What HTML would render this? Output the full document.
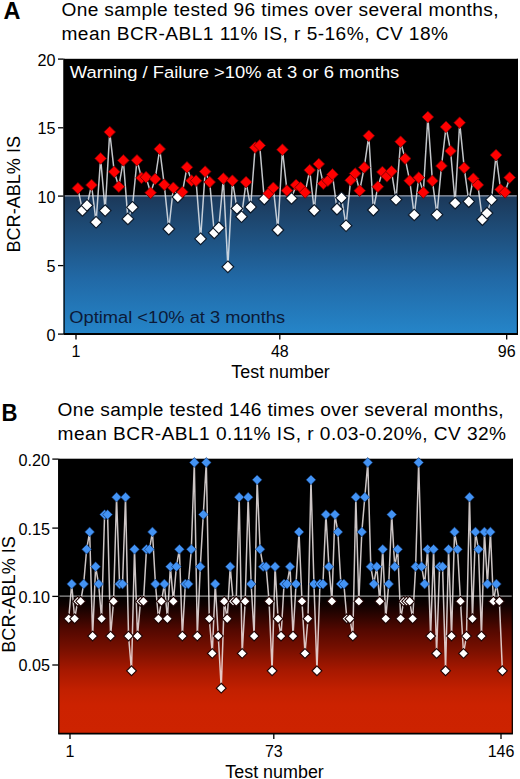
<!DOCTYPE html>
<html><head><meta charset="utf-8"><title>BCR-ABL1 charts</title>
<style>html,body{margin:0;padding:0;background:#fff;width:520px;height:779px;overflow:hidden}svg{display:block}.r{fill:#ff0000;stroke:#6a0000;stroke-width:0.8}.w{fill:#fff;stroke:#0a1626;stroke-width:1.1}.b{fill:#4393f4;stroke:#0c2a5a;stroke-width:0.6}.v{fill:#fff;stroke:#200404;stroke-width:1.1}</style>
</head><body>
<svg width="520" height="779" viewBox="0 0 520 779">
<defs>
<linearGradient id="gA" x1="0" y1="196" x2="0" y2="334" gradientUnits="userSpaceOnUse">
<stop offset="0" stop-color="#1b3859"/>
<stop offset="0.25" stop-color="#1e4d79"/>
<stop offset="0.6" stop-color="#2169a6"/>
<stop offset="1" stop-color="#2585c9"/>
</linearGradient>
<linearGradient id="gB" x1="0" y1="458" x2="0" y2="734" gradientUnits="userSpaceOnUse">
<stop offset="0" stop-color="#000"/>
<stop offset="0.5" stop-color="#000"/>
<stop offset="0.533" stop-color="#100100"/>
<stop offset="0.623" stop-color="#530800"/>
<stop offset="0.696" stop-color="#7a1000"/>
<stop offset="0.768" stop-color="#a61800"/>
<stop offset="0.84" stop-color="#c22000"/>
<stop offset="0.895" stop-color="#cc2200"/>
<stop offset="1" stop-color="#cd2300"/>
</linearGradient>
</defs>
<rect width="520" height="779" fill="#fff"/>
<text x="3.6" y="19.3" font-family="Liberation Sans, sans-serif" font-size="23.5" font-weight="bold" fill="#000">A</text>
<text transform="translate(61.5 16.4) scale(1.05 1)" x="0" y="0" font-family="Liberation Sans, sans-serif" font-size="18.2" fill="#000" textLength="416.19" lengthAdjust="spacing">One sample tested 96 times over several months,</text>
<text transform="translate(61.5 39.6) scale(1.05 1)" x="0" y="0" font-family="Liberation Sans, sans-serif" font-size="18.2" fill="#000" textLength="368.10" lengthAdjust="spacing">mean BCR-ABL1 11% IS, r 5-16%, CV 18%</text>
<rect x="63.5" y="58.8" width="454.5" height="137.10000000000002" fill="#000"/>
<rect x="63.5" y="195.9" width="454.5" height="138.29999999999998" fill="url(#gA)"/>
<line x1="63.5" y1="195.9" x2="518.0" y2="195.9" stroke="#939bab" stroke-width="1.2"/>
<path d="M64.1 58.8V334.2M517.4 58.8V334.2" stroke="#000" stroke-width="1.2" fill="none"/>
<line x1="63.5" y1="334.0" x2="518.0" y2="334.0" stroke="#000" stroke-width="1.8"/>
<text x="69.8" y="78.3" font-family="Liberation Sans, sans-serif" font-size="17.2" fill="#fff" textLength="329.5" lengthAdjust="spacingAndGlyphs">Warning / Failure &gt;10% at 3 or 6 months</text>
<text x="69.3" y="323.4" font-family="Liberation Sans, sans-serif" font-size="17.2" fill="#0c1a38" textLength="215.8" lengthAdjust="spacingAndGlyphs">Optimal &lt;10% at 3 months</text>
<polyline points="77.90,188.30 82.45,210.40 86.99,205.30 91.54,185.00 96.08,222.20 100.62,158.40 105.17,210.60 109.72,132.00 114.26,171.80 118.81,186.70 123.35,160.40 127.90,218.90 132.44,207.30 136.99,160.30 141.53,177.90 146.07,177.20 150.62,192.80 155.17,179.00 159.71,149.00 164.25,184.70 168.80,229.00 173.34,187.80 177.89,197.00 182.44,192.00 186.98,167.30 191.53,180.70 196.07,180.70 200.62,238.80 205.16,171.60 209.71,182.10 214.25,232.80 218.80,227.80 223.34,178.60 227.88,266.80 232.43,180.70 236.97,208.40 241.52,216.70 246.06,182.10 250.61,207.00 255.16,147.50 259.70,145.40 264.25,199.00 268.79,193.40 273.34,187.80 277.88,230.00 282.43,149.70 286.97,190.60 291.51,198.40 296.06,185.00 300.61,187.50 305.15,192.40 309.69,170.10 314.24,210.50 318.78,164.00 323.33,183.60 327.88,180.70 332.42,174.40 336.97,209.00 341.51,197.80 346.05,225.70 350.60,180.20 355.14,173.50 359.69,190.70 364.24,167.40 368.78,135.80 373.33,210.00 377.87,186.70 382.41,172.00 386.96,176.30 391.50,171.30 396.05,199.60 400.60,141.70 405.14,158.60 409.68,180.70 414.23,214.90 418.77,177.60 423.32,192.40 427.87,117.00 432.41,180.90 436.96,214.70 441.50,165.90 446.04,126.90 450.59,151.00 455.13,203.10 459.68,122.70 464.23,167.80 468.77,201.50 473.32,178.70 477.86,184.90 482.40,219.50 486.95,213.10 491.50,199.70 496.04,155.10 500.59,189.50 505.13,192.30 509.67,177.60" fill="none" stroke="#e4e8ec" stroke-opacity="0.85" stroke-width="1.5" stroke-linejoin="round"/>
<path class="r" d="M77.90 182.45L83.75 188.30L77.90 194.15L72.05 188.30Z"/>
<path class="w" d="M82.45 204.55L88.30 210.40L82.45 216.25L76.60 210.40Z"/>
<path class="w" d="M86.99 199.45L92.84 205.30L86.99 211.15L81.14 205.30Z"/>
<path class="r" d="M91.54 179.15L97.39 185.00L91.54 190.85L85.69 185.00Z"/>
<path class="w" d="M96.08 216.35L101.93 222.20L96.08 228.05L90.23 222.20Z"/>
<path class="r" d="M100.62 152.55L106.47 158.40L100.62 164.25L94.78 158.40Z"/>
<path class="w" d="M105.17 204.75L111.02 210.60L105.17 216.45L99.32 210.60Z"/>
<path class="r" d="M109.72 126.15L115.56 132.00L109.72 137.85L103.87 132.00Z"/>
<path class="r" d="M114.26 165.95L120.11 171.80L114.26 177.65L108.41 171.80Z"/>
<path class="r" d="M118.81 180.85L124.66 186.70L118.81 192.55L112.96 186.70Z"/>
<path class="r" d="M123.35 154.55L129.20 160.40L123.35 166.25L117.50 160.40Z"/>
<path class="w" d="M127.90 213.05L133.75 218.90L127.90 224.75L122.05 218.90Z"/>
<path class="w" d="M132.44 201.45L138.29 207.30L132.44 213.15L126.59 207.30Z"/>
<path class="r" d="M136.99 154.45L142.84 160.30L136.99 166.15L131.14 160.30Z"/>
<path class="r" d="M141.53 172.05L147.38 177.90L141.53 183.75L135.68 177.90Z"/>
<path class="r" d="M146.07 171.35L151.92 177.20L146.07 183.05L140.22 177.20Z"/>
<path class="r" d="M150.62 186.95L156.47 192.80L150.62 198.65L144.77 192.80Z"/>
<path class="r" d="M155.17 173.15L161.02 179.00L155.17 184.85L149.32 179.00Z"/>
<path class="r" d="M159.71 143.15L165.56 149.00L159.71 154.85L153.86 149.00Z"/>
<path class="r" d="M164.25 178.85L170.10 184.70L164.25 190.55L158.41 184.70Z"/>
<path class="w" d="M168.80 223.15L174.65 229.00L168.80 234.85L162.95 229.00Z"/>
<path class="r" d="M173.34 181.95L179.19 187.80L173.34 193.65L167.50 187.80Z"/>
<path class="w" d="M177.89 191.15L183.74 197.00L177.89 202.85L172.04 197.00Z"/>
<path class="r" d="M182.44 186.15L188.28 192.00L182.44 197.85L176.59 192.00Z"/>
<path class="r" d="M186.98 161.45L192.83 167.30L186.98 173.15L181.13 167.30Z"/>
<path class="r" d="M191.53 174.85L197.38 180.70L191.53 186.55L185.68 180.70Z"/>
<path class="r" d="M196.07 174.85L201.92 180.70L196.07 186.55L190.22 180.70Z"/>
<path class="w" d="M200.62 232.95L206.47 238.80L200.62 244.65L194.77 238.80Z"/>
<path class="r" d="M205.16 165.75L211.01 171.60L205.16 177.45L199.31 171.60Z"/>
<path class="r" d="M209.71 176.25L215.56 182.10L209.71 187.95L203.86 182.10Z"/>
<path class="w" d="M214.25 226.95L220.10 232.80L214.25 238.65L208.40 232.80Z"/>
<path class="w" d="M218.80 221.95L224.65 227.80L218.80 233.65L212.95 227.80Z"/>
<path class="r" d="M223.34 172.75L229.19 178.60L223.34 184.45L217.49 178.60Z"/>
<path class="w" d="M227.88 260.95L233.73 266.80L227.88 272.65L222.03 266.80Z"/>
<path class="r" d="M232.43 174.85L238.28 180.70L232.43 186.55L226.58 180.70Z"/>
<path class="w" d="M236.97 202.55L242.82 208.40L236.97 214.25L231.12 208.40Z"/>
<path class="w" d="M241.52 210.85L247.37 216.70L241.52 222.55L235.67 216.70Z"/>
<path class="r" d="M246.06 176.25L251.91 182.10L246.06 187.95L240.22 182.10Z"/>
<path class="w" d="M250.61 201.15L256.46 207.00L250.61 212.85L244.76 207.00Z"/>
<path class="r" d="M255.16 141.65L261.00 147.50L255.16 153.35L249.31 147.50Z"/>
<path class="r" d="M259.70 139.55L265.55 145.40L259.70 151.25L253.85 145.40Z"/>
<path class="w" d="M264.25 193.15L270.10 199.00L264.25 204.85L258.39 199.00Z"/>
<path class="r" d="M268.79 187.55L274.64 193.40L268.79 199.25L262.94 193.40Z"/>
<path class="r" d="M273.34 181.95L279.19 187.80L273.34 193.65L267.49 187.80Z"/>
<path class="w" d="M277.88 224.15L283.73 230.00L277.88 235.85L272.03 230.00Z"/>
<path class="r" d="M282.43 143.85L288.28 149.70L282.43 155.55L276.57 149.70Z"/>
<path class="r" d="M286.97 184.75L292.82 190.60L286.97 196.45L281.12 190.60Z"/>
<path class="w" d="M291.51 192.55L297.37 198.40L291.51 204.25L285.66 198.40Z"/>
<path class="r" d="M296.06 179.15L301.91 185.00L296.06 190.85L290.21 185.00Z"/>
<path class="r" d="M300.61 181.65L306.46 187.50L300.61 193.35L294.75 187.50Z"/>
<path class="r" d="M305.15 186.55L311.00 192.40L305.15 198.25L299.30 192.40Z"/>
<path class="r" d="M309.69 164.25L315.55 170.10L309.69 175.95L303.84 170.10Z"/>
<path class="w" d="M314.24 204.65L320.09 210.50L314.24 216.35L308.39 210.50Z"/>
<path class="r" d="M318.78 158.15L324.63 164.00L318.78 169.85L312.93 164.00Z"/>
<path class="r" d="M323.33 177.75L329.18 183.60L323.33 189.45L317.48 183.60Z"/>
<path class="r" d="M327.88 174.85L333.73 180.70L327.88 186.55L322.02 180.70Z"/>
<path class="r" d="M332.42 168.55L338.27 174.40L332.42 180.25L326.57 174.40Z"/>
<path class="w" d="M336.97 203.15L342.82 209.00L336.97 214.85L331.12 209.00Z"/>
<path class="w" d="M341.51 191.95L347.36 197.80L341.51 203.65L335.66 197.80Z"/>
<path class="w" d="M346.05 219.85L351.90 225.70L346.05 231.55L340.20 225.70Z"/>
<path class="r" d="M350.60 174.35L356.45 180.20L350.60 186.05L344.75 180.20Z"/>
<path class="r" d="M355.14 167.65L361.00 173.50L355.14 179.35L349.29 173.50Z"/>
<path class="r" d="M359.69 184.85L365.54 190.70L359.69 196.55L353.84 190.70Z"/>
<path class="r" d="M364.24 161.55L370.09 167.40L364.24 173.25L358.38 167.40Z"/>
<path class="r" d="M368.78 129.95L374.63 135.80L368.78 141.65L362.93 135.80Z"/>
<path class="w" d="M373.33 204.15L379.18 210.00L373.33 215.85L367.48 210.00Z"/>
<path class="r" d="M377.87 180.85L383.72 186.70L377.87 192.55L372.02 186.70Z"/>
<path class="r" d="M382.41 166.15L388.26 172.00L382.41 177.85L376.56 172.00Z"/>
<path class="r" d="M386.96 170.45L392.81 176.30L386.96 182.15L381.11 176.30Z"/>
<path class="r" d="M391.50 165.45L397.36 171.30L391.50 177.15L385.65 171.30Z"/>
<path class="w" d="M396.05 193.75L401.90 199.60L396.05 205.45L390.20 199.60Z"/>
<path class="r" d="M400.60 135.85L406.45 141.70L400.60 147.55L394.75 141.70Z"/>
<path class="r" d="M405.14 152.75L410.99 158.60L405.14 164.45L399.29 158.60Z"/>
<path class="r" d="M409.68 174.85L415.53 180.70L409.68 186.55L403.83 180.70Z"/>
<path class="w" d="M414.23 209.05L420.08 214.90L414.23 220.75L408.38 214.90Z"/>
<path class="r" d="M418.77 171.75L424.62 177.60L418.77 183.45L412.92 177.60Z"/>
<path class="r" d="M423.32 186.55L429.17 192.40L423.32 198.25L417.47 192.40Z"/>
<path class="r" d="M427.87 111.15L433.72 117.00L427.87 122.85L422.01 117.00Z"/>
<path class="r" d="M432.41 175.05L438.26 180.90L432.41 186.75L426.56 180.90Z"/>
<path class="w" d="M436.96 208.85L442.81 214.70L436.96 220.55L431.11 214.70Z"/>
<path class="r" d="M441.50 160.05L447.35 165.90L441.50 171.75L435.65 165.90Z"/>
<path class="r" d="M446.04 121.05L451.89 126.90L446.04 132.75L440.19 126.90Z"/>
<path class="r" d="M450.59 145.15L456.44 151.00L450.59 156.85L444.74 151.00Z"/>
<path class="w" d="M455.13 197.25L460.99 203.10L455.13 208.95L449.28 203.10Z"/>
<path class="r" d="M459.68 116.85L465.53 122.70L459.68 128.55L453.83 122.70Z"/>
<path class="r" d="M464.23 161.95L470.08 167.80L464.23 173.65L458.38 167.80Z"/>
<path class="w" d="M468.77 195.65L474.62 201.50L468.77 207.35L462.92 201.50Z"/>
<path class="r" d="M473.32 172.85L479.17 178.70L473.32 184.55L467.47 178.70Z"/>
<path class="r" d="M477.86 179.05L483.71 184.90L477.86 190.75L472.01 184.90Z"/>
<path class="w" d="M482.40 213.65L488.25 219.50L482.40 225.35L476.55 219.50Z"/>
<path class="w" d="M486.95 207.25L492.80 213.10L486.95 218.95L481.10 213.10Z"/>
<path class="w" d="M491.50 193.85L497.35 199.70L491.50 205.55L485.64 199.70Z"/>
<path class="r" d="M496.04 149.25L501.89 155.10L496.04 160.95L490.19 155.10Z"/>
<path class="r" d="M500.59 183.65L506.44 189.50L500.59 195.35L494.74 189.50Z"/>
<path class="r" d="M505.13 186.45L510.98 192.30L505.13 198.15L499.28 192.30Z"/>
<path class="r" d="M509.67 171.75L515.52 177.60L509.67 183.45L503.82 177.60Z"/>
<line x1="58" y1="334.1" x2="63.5" y2="334.1" stroke="#000" stroke-width="1.3"/>
<text x="55.4" y="340.5" font-family="Liberation Sans, sans-serif" font-size="16.2" fill="#000" text-anchor="end">0</text>
<line x1="58" y1="265.6" x2="63.5" y2="265.6" stroke="#000" stroke-width="1.3"/>
<text x="55.4" y="272.0" font-family="Liberation Sans, sans-serif" font-size="16.2" fill="#000" text-anchor="end">5</text>
<line x1="58" y1="196.1" x2="63.5" y2="196.1" stroke="#000" stroke-width="1.3"/>
<text x="55.4" y="202.5" font-family="Liberation Sans, sans-serif" font-size="16.2" fill="#000" text-anchor="end">10</text>
<line x1="58" y1="127.8" x2="63.5" y2="127.8" stroke="#000" stroke-width="1.3"/>
<text x="55.4" y="134.2" font-family="Liberation Sans, sans-serif" font-size="16.2" fill="#000" text-anchor="end">15</text>
<line x1="58" y1="59.1" x2="63.5" y2="59.1" stroke="#000" stroke-width="1.3"/>
<text x="55.4" y="65.5" font-family="Liberation Sans, sans-serif" font-size="16.2" fill="#000" text-anchor="end">20</text>
<line x1="76.0" y1="334.2" x2="76.0" y2="339.5" stroke="#000" stroke-width="1.3"/>
<text x="76.0" y="356.5" font-family="Liberation Sans, sans-serif" font-size="16" fill="#000" text-anchor="middle">1</text>
<line x1="279.8" y1="334.2" x2="279.8" y2="339.5" stroke="#000" stroke-width="1.3"/>
<text x="279.8" y="356.5" font-family="Liberation Sans, sans-serif" font-size="16" fill="#000" text-anchor="middle">48</text>
<line x1="506.7" y1="334.2" x2="506.7" y2="339.5" stroke="#000" stroke-width="1.3"/>
<text x="506.7" y="356.5" font-family="Liberation Sans, sans-serif" font-size="16" fill="#000" text-anchor="middle">96</text>
<text x="231.3" y="377.5" font-family="Liberation Sans, sans-serif" font-size="17.5" fill="#000" textLength="98.5" lengthAdjust="spacingAndGlyphs">Test number</text>
<text transform="translate(20 252.5) rotate(-90)" font-family="Liberation Sans, sans-serif" font-size="17.5" fill="#000" textLength="116.5" lengthAdjust="spacingAndGlyphs">BCR-ABL% IS</text>
<text x="1.5" y="421.4" font-family="Liberation Sans, sans-serif" font-size="23" textLength="16" lengthAdjust="spacingAndGlyphs" font-weight="bold" fill="#000">B</text>
<text transform="translate(57.6 416.3) scale(1.05 1)" x="0" y="0" font-family="Liberation Sans, sans-serif" font-size="18.2" fill="#000" textLength="424.76" lengthAdjust="spacing">One sample tested 146 times over several months,</text>
<text transform="translate(57.6 439.6) scale(1.05 1)" x="0" y="0" font-family="Liberation Sans, sans-serif" font-size="18.2" fill="#000" textLength="427.14" lengthAdjust="spacing">mean BCR-ABL1 0.11% IS, r 0.03-0.20%, CV 32%</text>
<rect x="58.2" y="458.7" width="454.7" height="275.09999999999997" fill="url(#gB)"/>
<line x1="58.2" y1="596.2" x2="512.9" y2="596.2" stroke="#959595" stroke-width="1.2"/>
<path d="M58.800000000000004 458.7V733.8M512.3 458.7V733.8" stroke="#000" stroke-width="1.2" fill="none"/>
<line x1="58.2" y1="733.6999999999999" x2="512.9" y2="733.6999999999999" stroke="#000" stroke-width="1.8"/>
<polyline points="68.70,618.72 71.69,584.00 74.68,618.72 77.67,601.36 80.66,601.36 83.66,584.00 86.65,549.28 89.64,531.92 92.63,636.08 95.62,566.64 98.61,584.00 101.60,618.72 104.59,514.56 107.58,514.56 110.57,636.08 113.56,601.36 116.56,497.20 119.55,584.00 122.54,584.00 125.53,497.20 128.52,636.08 131.51,670.80 134.50,549.28 137.49,636.08 140.48,601.36 143.48,601.36 146.47,549.28 149.46,549.28 152.45,531.92 155.44,584.00 158.43,618.72 161.42,601.36 164.41,584.00 167.40,618.72 170.39,566.64 173.38,601.36 176.38,566.64 179.37,549.28 182.36,636.08 185.35,584.00 188.34,584.00 191.33,549.28 194.32,462.48 197.31,636.08 200.30,566.64 203.30,514.56 206.29,462.48 209.28,618.72 212.27,653.44 215.26,584.00 218.25,636.08 221.24,688.16 224.23,601.36 227.22,618.72 230.21,566.64 233.20,601.36 236.20,601.36 239.19,497.20 242.18,653.44 245.17,601.36 248.16,497.20 251.15,584.00 254.14,636.08 257.13,479.84 260.12,549.28 263.12,566.64 266.11,566.64 269.10,601.36 272.09,670.80 275.08,566.64 278.07,618.72 281.06,636.08 284.05,584.00 287.04,584.00 290.03,566.64 293.03,636.08 296.02,584.00 299.01,531.92 302.00,601.36 304.99,653.44 307.98,618.72 310.97,479.84 313.96,584.00 316.95,670.80 319.94,584.00 322.94,584.00 325.93,514.56 328.92,566.64 331.91,601.36 334.90,514.56 337.89,531.92 340.88,584.00 343.87,584.00 346.86,618.72 349.85,618.72 352.84,636.08 355.84,497.20 358.83,601.36 361.82,531.92 364.81,497.20 367.80,462.48 370.79,566.64 373.78,584.00 376.77,566.64 379.76,601.36 382.75,549.28 385.75,618.72 388.74,584.00 391.73,514.56 394.72,566.64 397.71,549.28 400.70,618.72 403.69,601.36 406.68,601.36 409.67,601.36 412.67,618.72 415.66,566.64 418.65,462.48 421.64,566.64 424.63,584.00 427.62,549.28 430.61,636.08 433.60,549.28 436.59,653.44 439.58,566.64 442.57,566.64 445.57,670.80 448.56,549.28 451.55,636.08 454.54,531.92 457.53,549.28 460.52,601.36 463.51,653.44 466.50,636.08 469.49,497.20 472.49,618.72 475.48,531.92 478.47,549.28 481.46,636.08 484.45,531.92 487.44,584.00 490.43,531.92 493.42,601.36 496.41,584.00 499.40,601.36 502.39,670.80" fill="none" stroke="#f0e8e8" stroke-opacity="0.85" stroke-width="1.5" stroke-linejoin="round"/>
<path class="v" d="M68.70 613.82L73.60 618.72L68.70 623.62L63.80 618.72Z"/>
<path class="b" d="M71.69 579.10L76.59 584.00L71.69 588.90L66.79 584.00Z"/>
<path class="v" d="M74.68 613.82L79.58 618.72L74.68 623.62L69.78 618.72Z"/>
<path class="v" d="M77.67 596.46L82.57 601.36L77.67 606.26L72.77 601.36Z"/>
<path class="v" d="M80.66 596.46L85.56 601.36L80.66 606.26L75.76 601.36Z"/>
<path class="b" d="M83.66 579.10L88.56 584.00L83.66 588.90L78.75 584.00Z"/>
<path class="b" d="M86.65 544.38L91.55 549.28L86.65 554.18L81.75 549.28Z"/>
<path class="b" d="M89.64 527.02L94.54 531.92L89.64 536.82L84.74 531.92Z"/>
<path class="v" d="M92.63 631.18L97.53 636.08L92.63 640.98L87.73 636.08Z"/>
<path class="b" d="M95.62 561.74L100.52 566.64L95.62 571.54L90.72 566.64Z"/>
<path class="b" d="M98.61 579.10L103.51 584.00L98.61 588.90L93.71 584.00Z"/>
<path class="v" d="M101.60 613.82L106.50 618.72L101.60 623.62L96.70 618.72Z"/>
<path class="b" d="M104.59 509.66L109.49 514.56L104.59 519.46L99.69 514.56Z"/>
<path class="b" d="M107.58 509.66L112.48 514.56L107.58 519.46L102.68 514.56Z"/>
<path class="v" d="M110.57 631.18L115.47 636.08L110.57 640.98L105.67 636.08Z"/>
<path class="v" d="M113.56 596.46L118.47 601.36L113.56 606.26L108.66 601.36Z"/>
<path class="b" d="M116.56 492.30L121.46 497.20L116.56 502.10L111.66 497.20Z"/>
<path class="b" d="M119.55 579.10L124.45 584.00L119.55 588.90L114.65 584.00Z"/>
<path class="b" d="M122.54 579.10L127.44 584.00L122.54 588.90L117.64 584.00Z"/>
<path class="b" d="M125.53 492.30L130.43 497.20L125.53 502.10L120.63 497.20Z"/>
<path class="v" d="M128.52 631.18L133.42 636.08L128.52 640.98L123.62 636.08Z"/>
<path class="v" d="M131.51 665.90L136.41 670.80L131.51 675.70L126.61 670.80Z"/>
<path class="b" d="M134.50 544.38L139.40 549.28L134.50 554.18L129.60 549.28Z"/>
<path class="v" d="M137.49 631.18L142.39 636.08L137.49 640.98L132.59 636.08Z"/>
<path class="v" d="M140.48 596.46L145.38 601.36L140.48 606.26L135.58 601.36Z"/>
<path class="v" d="M143.48 596.46L148.38 601.36L143.48 606.26L138.58 601.36Z"/>
<path class="b" d="M146.47 544.38L151.37 549.28L146.47 554.18L141.57 549.28Z"/>
<path class="b" d="M149.46 544.38L154.36 549.28L149.46 554.18L144.56 549.28Z"/>
<path class="b" d="M152.45 527.02L157.35 531.92L152.45 536.82L147.55 531.92Z"/>
<path class="b" d="M155.44 579.10L160.34 584.00L155.44 588.90L150.54 584.00Z"/>
<path class="v" d="M158.43 613.82L163.33 618.72L158.43 623.62L153.53 618.72Z"/>
<path class="v" d="M161.42 596.46L166.32 601.36L161.42 606.26L156.52 601.36Z"/>
<path class="b" d="M164.41 579.10L169.31 584.00L164.41 588.90L159.51 584.00Z"/>
<path class="v" d="M167.40 613.82L172.30 618.72L167.40 623.62L162.50 618.72Z"/>
<path class="b" d="M170.39 561.74L175.29 566.64L170.39 571.54L165.49 566.64Z"/>
<path class="v" d="M173.38 596.46L178.28 601.36L173.38 606.26L168.48 601.36Z"/>
<path class="b" d="M176.38 561.74L181.28 566.64L176.38 571.54L171.48 566.64Z"/>
<path class="b" d="M179.37 544.38L184.27 549.28L179.37 554.18L174.47 549.28Z"/>
<path class="v" d="M182.36 631.18L187.26 636.08L182.36 640.98L177.46 636.08Z"/>
<path class="b" d="M185.35 579.10L190.25 584.00L185.35 588.90L180.45 584.00Z"/>
<path class="b" d="M188.34 579.10L193.24 584.00L188.34 588.90L183.44 584.00Z"/>
<path class="b" d="M191.33 544.38L196.23 549.28L191.33 554.18L186.43 549.28Z"/>
<path class="b" d="M194.32 457.58L199.22 462.48L194.32 467.38L189.42 462.48Z"/>
<path class="v" d="M197.31 631.18L202.21 636.08L197.31 640.98L192.41 636.08Z"/>
<path class="b" d="M200.30 561.74L205.20 566.64L200.30 571.54L195.40 566.64Z"/>
<path class="b" d="M203.30 509.66L208.20 514.56L203.30 519.46L198.40 514.56Z"/>
<path class="b" d="M206.29 457.58L211.19 462.48L206.29 467.38L201.39 462.48Z"/>
<path class="v" d="M209.28 613.82L214.18 618.72L209.28 623.62L204.38 618.72Z"/>
<path class="v" d="M212.27 648.54L217.17 653.44L212.27 658.34L207.37 653.44Z"/>
<path class="b" d="M215.26 579.10L220.16 584.00L215.26 588.90L210.36 584.00Z"/>
<path class="v" d="M218.25 631.18L223.15 636.08L218.25 640.98L213.35 636.08Z"/>
<path class="v" d="M221.24 683.26L226.14 688.16L221.24 693.06L216.34 688.16Z"/>
<path class="v" d="M224.23 596.46L229.13 601.36L224.23 606.26L219.33 601.36Z"/>
<path class="v" d="M227.22 613.82L232.12 618.72L227.22 623.62L222.32 618.72Z"/>
<path class="b" d="M230.21 561.74L235.11 566.64L230.21 571.54L225.31 566.64Z"/>
<path class="v" d="M233.20 596.46L238.10 601.36L233.20 606.26L228.30 601.36Z"/>
<path class="v" d="M236.20 596.46L241.10 601.36L236.20 606.26L231.30 601.36Z"/>
<path class="b" d="M239.19 492.30L244.09 497.20L239.19 502.10L234.29 497.20Z"/>
<path class="v" d="M242.18 648.54L247.08 653.44L242.18 658.34L237.28 653.44Z"/>
<path class="v" d="M245.17 596.46L250.07 601.36L245.17 606.26L240.27 601.36Z"/>
<path class="b" d="M248.16 492.30L253.06 497.20L248.16 502.10L243.26 497.20Z"/>
<path class="b" d="M251.15 579.10L256.05 584.00L251.15 588.90L246.25 584.00Z"/>
<path class="v" d="M254.14 631.18L259.04 636.08L254.14 640.98L249.24 636.08Z"/>
<path class="b" d="M257.13 474.94L262.03 479.84L257.13 484.74L252.23 479.84Z"/>
<path class="b" d="M260.12 544.38L265.02 549.28L260.12 554.18L255.22 549.28Z"/>
<path class="b" d="M263.12 561.74L268.01 566.64L263.12 571.54L258.22 566.64Z"/>
<path class="b" d="M266.11 561.74L271.01 566.64L266.11 571.54L261.21 566.64Z"/>
<path class="v" d="M269.10 596.46L274.00 601.36L269.10 606.26L264.20 601.36Z"/>
<path class="v" d="M272.09 665.90L276.99 670.80L272.09 675.70L267.19 670.80Z"/>
<path class="b" d="M275.08 561.74L279.98 566.64L275.08 571.54L270.18 566.64Z"/>
<path class="v" d="M278.07 613.82L282.97 618.72L278.07 623.62L273.17 618.72Z"/>
<path class="v" d="M281.06 631.18L285.96 636.08L281.06 640.98L276.16 636.08Z"/>
<path class="b" d="M284.05 579.10L288.95 584.00L284.05 588.90L279.15 584.00Z"/>
<path class="b" d="M287.04 579.10L291.94 584.00L287.04 588.90L282.14 584.00Z"/>
<path class="b" d="M290.03 561.74L294.93 566.64L290.03 571.54L285.13 566.64Z"/>
<path class="v" d="M293.03 631.18L297.93 636.08L293.03 640.98L288.13 636.08Z"/>
<path class="b" d="M296.02 579.10L300.92 584.00L296.02 588.90L291.12 584.00Z"/>
<path class="b" d="M299.01 527.02L303.91 531.92L299.01 536.82L294.11 531.92Z"/>
<path class="v" d="M302.00 596.46L306.90 601.36L302.00 606.26L297.10 601.36Z"/>
<path class="v" d="M304.99 648.54L309.89 653.44L304.99 658.34L300.09 653.44Z"/>
<path class="v" d="M307.98 613.82L312.88 618.72L307.98 623.62L303.08 618.72Z"/>
<path class="b" d="M310.97 474.94L315.87 479.84L310.97 484.74L306.07 479.84Z"/>
<path class="b" d="M313.96 579.10L318.86 584.00L313.96 588.90L309.06 584.00Z"/>
<path class="v" d="M316.95 665.90L321.85 670.80L316.95 675.70L312.05 670.80Z"/>
<path class="b" d="M319.94 579.10L324.84 584.00L319.94 588.90L315.04 584.00Z"/>
<path class="b" d="M322.94 579.10L327.83 584.00L322.94 588.90L318.04 584.00Z"/>
<path class="b" d="M325.93 509.66L330.83 514.56L325.93 519.46L321.03 514.56Z"/>
<path class="b" d="M328.92 561.74L333.82 566.64L328.92 571.54L324.02 566.64Z"/>
<path class="v" d="M331.91 596.46L336.81 601.36L331.91 606.26L327.01 601.36Z"/>
<path class="b" d="M334.90 509.66L339.80 514.56L334.90 519.46L330.00 514.56Z"/>
<path class="b" d="M337.89 527.02L342.79 531.92L337.89 536.82L332.99 531.92Z"/>
<path class="b" d="M340.88 579.10L345.78 584.00L340.88 588.90L335.98 584.00Z"/>
<path class="b" d="M343.87 579.10L348.77 584.00L343.87 588.90L338.97 584.00Z"/>
<path class="v" d="M346.86 613.82L351.76 618.72L346.86 623.62L341.96 618.72Z"/>
<path class="v" d="M349.85 613.82L354.75 618.72L349.85 623.62L344.95 618.72Z"/>
<path class="v" d="M352.84 631.18L357.74 636.08L352.84 640.98L347.94 636.08Z"/>
<path class="b" d="M355.84 492.30L360.74 497.20L355.84 502.10L350.94 497.20Z"/>
<path class="v" d="M358.83 596.46L363.73 601.36L358.83 606.26L353.93 601.36Z"/>
<path class="b" d="M361.82 527.02L366.72 531.92L361.82 536.82L356.92 531.92Z"/>
<path class="b" d="M364.81 492.30L369.71 497.20L364.81 502.10L359.91 497.20Z"/>
<path class="b" d="M367.80 457.58L372.70 462.48L367.80 467.38L362.90 462.48Z"/>
<path class="b" d="M370.79 561.74L375.69 566.64L370.79 571.54L365.89 566.64Z"/>
<path class="b" d="M373.78 579.10L378.68 584.00L373.78 588.90L368.88 584.00Z"/>
<path class="b" d="M376.77 561.74L381.67 566.64L376.77 571.54L371.87 566.64Z"/>
<path class="v" d="M379.76 596.46L384.66 601.36L379.76 606.26L374.86 601.36Z"/>
<path class="b" d="M382.75 544.38L387.65 549.28L382.75 554.18L377.86 549.28Z"/>
<path class="v" d="M385.75 613.82L390.65 618.72L385.75 623.62L380.85 618.72Z"/>
<path class="b" d="M388.74 579.10L393.64 584.00L388.74 588.90L383.84 584.00Z"/>
<path class="b" d="M391.73 509.66L396.63 514.56L391.73 519.46L386.83 514.56Z"/>
<path class="b" d="M394.72 561.74L399.62 566.64L394.72 571.54L389.82 566.64Z"/>
<path class="b" d="M397.71 544.38L402.61 549.28L397.71 554.18L392.81 549.28Z"/>
<path class="v" d="M400.70 613.82L405.60 618.72L400.70 623.62L395.80 618.72Z"/>
<path class="v" d="M403.69 596.46L408.59 601.36L403.69 606.26L398.79 601.36Z"/>
<path class="v" d="M406.68 596.46L411.58 601.36L406.68 606.26L401.78 601.36Z"/>
<path class="v" d="M409.67 596.46L414.57 601.36L409.67 606.26L404.77 601.36Z"/>
<path class="v" d="M412.67 613.82L417.56 618.72L412.67 623.62L407.77 618.72Z"/>
<path class="b" d="M415.66 561.74L420.56 566.64L415.66 571.54L410.76 566.64Z"/>
<path class="b" d="M418.65 457.58L423.55 462.48L418.65 467.38L413.75 462.48Z"/>
<path class="b" d="M421.64 561.74L426.54 566.64L421.64 571.54L416.74 566.64Z"/>
<path class="b" d="M424.63 579.10L429.53 584.00L424.63 588.90L419.73 584.00Z"/>
<path class="b" d="M427.62 544.38L432.52 549.28L427.62 554.18L422.72 549.28Z"/>
<path class="v" d="M430.61 631.18L435.51 636.08L430.61 640.98L425.71 636.08Z"/>
<path class="b" d="M433.60 544.38L438.50 549.28L433.60 554.18L428.70 549.28Z"/>
<path class="v" d="M436.59 648.54L441.49 653.44L436.59 658.34L431.69 653.44Z"/>
<path class="b" d="M439.58 561.74L444.48 566.64L439.58 571.54L434.68 566.64Z"/>
<path class="b" d="M442.57 561.74L447.47 566.64L442.57 571.54L437.68 566.64Z"/>
<path class="v" d="M445.57 665.90L450.47 670.80L445.57 675.70L440.67 670.80Z"/>
<path class="b" d="M448.56 544.38L453.46 549.28L448.56 554.18L443.66 549.28Z"/>
<path class="v" d="M451.55 631.18L456.45 636.08L451.55 640.98L446.65 636.08Z"/>
<path class="b" d="M454.54 527.02L459.44 531.92L454.54 536.82L449.64 531.92Z"/>
<path class="b" d="M457.53 544.38L462.43 549.28L457.53 554.18L452.63 549.28Z"/>
<path class="v" d="M460.52 596.46L465.42 601.36L460.52 606.26L455.62 601.36Z"/>
<path class="v" d="M463.51 648.54L468.41 653.44L463.51 658.34L458.61 653.44Z"/>
<path class="v" d="M466.50 631.18L471.40 636.08L466.50 640.98L461.60 636.08Z"/>
<path class="b" d="M469.49 492.30L474.39 497.20L469.49 502.10L464.59 497.20Z"/>
<path class="v" d="M472.49 613.82L477.38 618.72L472.49 623.62L467.59 618.72Z"/>
<path class="b" d="M475.48 527.02L480.38 531.92L475.48 536.82L470.58 531.92Z"/>
<path class="b" d="M478.47 544.38L483.37 549.28L478.47 554.18L473.57 549.28Z"/>
<path class="v" d="M481.46 631.18L486.36 636.08L481.46 640.98L476.56 636.08Z"/>
<path class="b" d="M484.45 527.02L489.35 531.92L484.45 536.82L479.55 531.92Z"/>
<path class="b" d="M487.44 579.10L492.34 584.00L487.44 588.90L482.54 584.00Z"/>
<path class="b" d="M490.43 527.02L495.33 531.92L490.43 536.82L485.53 531.92Z"/>
<path class="v" d="M493.42 596.46L498.32 601.36L493.42 606.26L488.52 601.36Z"/>
<path class="b" d="M496.41 579.10L501.31 584.00L496.41 588.90L491.51 584.00Z"/>
<path class="v" d="M499.40 596.46L504.30 601.36L499.40 606.26L494.50 601.36Z"/>
<path class="v" d="M502.39 665.90L507.29 670.80L502.39 675.70L497.50 670.80Z"/>
<line x1="52.3" y1="459.1" x2="58.2" y2="459.1" stroke="#000" stroke-width="1.3"/>
<text x="50" y="465.5" font-family="Liberation Sans, sans-serif" font-size="16.2" fill="#000" text-anchor="end">0.20</text>
<line x1="52.3" y1="528.1" x2="58.2" y2="528.1" stroke="#000" stroke-width="1.3"/>
<text x="50" y="534.5" font-family="Liberation Sans, sans-serif" font-size="16.2" fill="#000" text-anchor="end">0.15</text>
<line x1="52.3" y1="596.4" x2="58.2" y2="596.4" stroke="#000" stroke-width="1.3"/>
<text x="50" y="602.8" font-family="Liberation Sans, sans-serif" font-size="16.2" fill="#000" text-anchor="end">0.10</text>
<line x1="52.3" y1="665.0" x2="58.2" y2="665.0" stroke="#000" stroke-width="1.3"/>
<text x="50" y="671.4" font-family="Liberation Sans, sans-serif" font-size="16.2" fill="#000" text-anchor="end">0.05</text>
<line x1="70.0" y1="733.8" x2="70.0" y2="739" stroke="#000" stroke-width="1.3"/>
<text x="70.0" y="756.5" font-family="Liberation Sans, sans-serif" font-size="16" fill="#000" text-anchor="middle">1</text>
<line x1="273.8" y1="733.8" x2="273.8" y2="739" stroke="#000" stroke-width="1.3"/>
<text x="273.8" y="756.5" font-family="Liberation Sans, sans-serif" font-size="16" fill="#000" text-anchor="middle">73</text>
<line x1="501.0" y1="733.8" x2="501.0" y2="739" stroke="#000" stroke-width="1.3"/>
<text x="501.0" y="756.5" font-family="Liberation Sans, sans-serif" font-size="16" fill="#000" text-anchor="middle">146</text>
<text x="225.3" y="777.5" font-family="Liberation Sans, sans-serif" font-size="17.5" fill="#000" textLength="98.5" lengthAdjust="spacingAndGlyphs">Test number</text>
<text transform="translate(15.3 652.7) rotate(-90)" font-family="Liberation Sans, sans-serif" font-size="17.5" fill="#000" textLength="116.5" lengthAdjust="spacingAndGlyphs">BCR-ABL% IS</text>
</svg>
</body></html>
